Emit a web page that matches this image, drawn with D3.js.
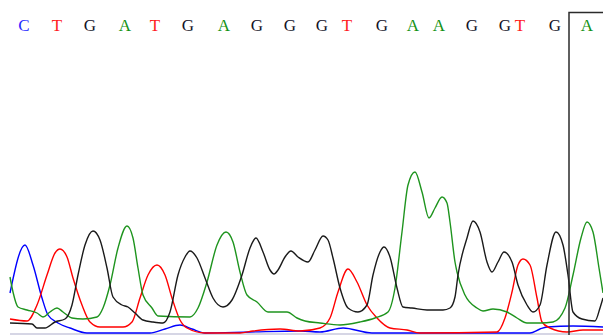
<!DOCTYPE html>
<html>
<head>
<meta charset="utf-8">
<script src="https://cdn.jsdelivr.net/npm/d3@7"></script>
<style>
  html, body { margin: 0; padding: 0; background: #fff; overflow: hidden; }
  svg { display: block; }
</style>
</head>
<body>
<svg id="chart" width="603" height="335"></svg>
<script>
// base calls and their scan positions
const bases = ['C','T','G','A','T','G','A','G','G','G','T','G','A','A','G','G','T','G','A'];
const basePos = [14, 47, 80, 115, 145, 178, 214, 247, 280, 312, 337, 372, 403, 429, 462, 495, 510, 545, 577];

// selected base window (scan units)
const selRange = [559, 620];

// traces: [scan, intensity]
const traceC = [[0,41],[15,89],[23,69],[32,36],[38,19],[48,11],[60,6],[77,1],[140,1],[155,5],[170,9],[182,5],[195,1],
  [240,2],[290,3],[310,2],[333,6],[362,1],[520,1],[530,5],[537,7],[563,8],[593,7]];

const traceT = [[0,15],[17,13],[27,29],[37,59],[45,81],[50,85],[57,77],[63,56],[72,29],[80,12],[90,7],[113,7],[122,12],
  [130,36],[138,59],[147,69],[155,59],[162,36],[170,14],[177,6],[195,1],[230,1],[243,3],[270,5],[290,3],[310,6],[320,16],
  [328,42],[338,65],[347,52],[357,29],[367,16],[380,6],[397,4],[410,1],[487,2],[495,16],[502,42],[508,69],[513,75],
  [520,69],[527,36],[532,12],[540,6],[557,2],[573,4],[593,4]];

const traceG = [[0,11],[22,10],[27,6],[35,6],[45,12],[55,15],[62,29],[68,59],[75,89],[83,103],[90,94],[97,66],[103,37],
  [112,29],[118,27],[125,21],[133,14],[143,12],[153,11],[160,22],[168,59],[175,77],[180,83],[187,76],[195,56],[203,36],
  [213,27],[222,34],[232,59],[240,86],[246,96],[253,82],[260,64],[264,60],[268,64],[275,77],[281,83],[288,77],[298,72],
  [305,84],[313,98],[318,94],[323,76],[330,46],[338,26],[348,22],[357,29],[363,59],[370,82],[374,87],[380,77],[387,46],
  [393,27],[402,26],[417,24],[433,24],[440,26],[445,37],[448,59],[457,96],[463,113],[470,102],[477,72],[482,62],[488,72],
  [494,82],[502,72],[508,49],[517,29],[523,22],[530,29],[537,69],[546,102],[553,89],[558,59],[563,22],[572,15],[585,13],
  [590,26],[593,36]];

const traceA = [[0,57],[3,42],[8,27],[17,24],[27,21],[33,17],[40,22],[47,26],[53,22],[62,16],[73,15],[87,17],[93,26],
  [100,49],[108,86],[117,108],[123,96],[128,66],[133,39],[142,26],[148,18],[180,17],[188,26],[197,52],[207,89],[216,102],
  [223,92],[230,62],[237,39],[247,32],[258,22],[277,22],[287,16],[295,13],[310,11],[330,9],[350,12],[365,16],[378,22],
  [385,46],[392,102],[398,149],[405,162],[412,142],[419,116],[425,126],[432,137],[437,131],[440,112],[445,72],[447,62],
  [455,39],[467,26],[473,23],[483,25],[497,22],[507,16],[517,11],[530,11],[543,12],[555,26],[563,59],[571,96],[577,112],
  [583,102],[589,66],[593,41]];

const baseColor = { A: '#139213', C: '#2a2aff', G: '#141428', T: '#ff2020' };
const traceColor = { A: '#1e941e', C: '#0000ff', G: '#1a1a1a', T: '#ff0000' };

const svg = d3.select('#chart');
const width = 603, height = 335;

const x = d3.scaleLinear().domain([0, 593]).range([10, 603]);
const y = d3.scaleLinear().domain([0, 330]).range([334, 4]);

// baseline
svg.append('line')
  .attr('x1', x(0)).attr('x2', x(593))
  .attr('y1', y(0)).attr('y2', y(0))
  .attr('stroke', '#c8c8dc').attr('stroke-width', 1.5);

const line = d3.line()
  .x(d => x(d[0]))
  .y(d => y(d[1]))
  .curve(d3.curveMonotoneX);

const traces = [
  { base: 'C', data: traceC },
  { base: 'T', data: traceT },
  { base: 'A', data: traceA },
  { base: 'G', data: traceG }
];

svg.selectAll('.trace')
  .data(traces)
  .enter().append('path')
  .attr('class', 'trace')
  .attr('d', d => line(d.data))
  .attr('fill', 'none')
  .attr('stroke', d => traceColor[d.base])
  .attr('stroke-width', 1.4)
  .attr('stroke-linejoin', 'round');

// base letters
svg.selectAll('.base')
  .data(bases)
  .enter().append('text')
  .attr('class', 'base')
  .attr('x', (d, i) => x(basePos[i]))
  .attr('y', 31)
  .attr('text-anchor', 'middle')
  .attr('font-family', '"Liberation Serif", "DejaVu Serif", serif')
  .attr('font-size', 17)
  .attr('fill', d => baseColor[d])
  .text(d => d);

// selection box
svg.append('path')
  .attr('d', `M${x(selRange[0])},${height + 2} V12.5 H${x(selRange[1])}`)
  .attr('fill', 'none')
  .attr('stroke', '#2b2b2b')
  .attr('stroke-width', 1.5);
</script>
</body>
</html>
